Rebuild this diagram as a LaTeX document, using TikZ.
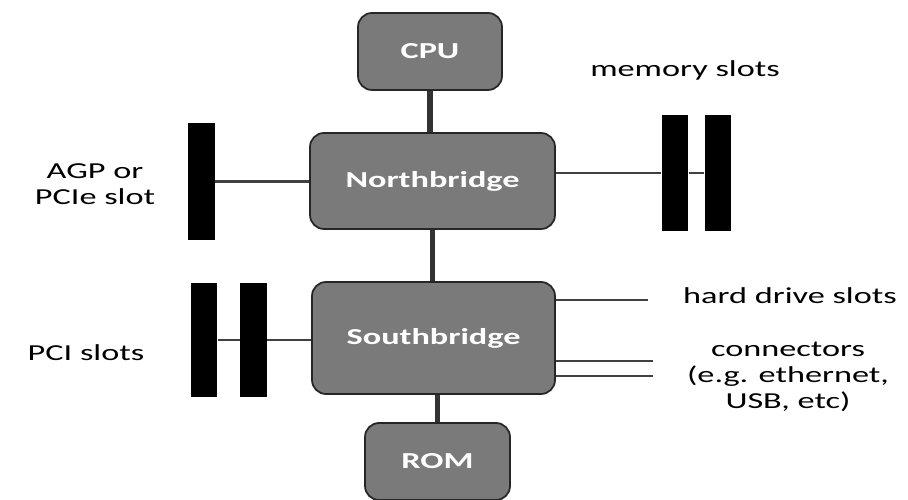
\documentclass[tikz,border=0pt]{standalone}
\usepackage{fontspec}
\setmainfont{Carlito}[FakeStretch=1.5]
\begin{document}
\begin{tikzpicture}[chip/.style={draw=black!85, line width=1pt, fill=black!52, rounded corners=8pt, text=white, font=\fontsize{13}{15}\selectfont\bfseries},
    slot/.style={fill=black, minimum width=.53cm, inner sep=0pt},
    bus/.style={black!80, line width=3pt},
    wire/.style={black!75, line width=1.5pt},
    lbl/.style={font=\fontsize{13}{15}\selectfont, align=center}]
\useasboundingbox (0,0) rectangle (18.16,10);
% chips
\node[chip, minimum width=2.88cm, minimum height=1.54cm](cpu) at (8.6,8.97){CPU};
\node[chip, minimum width=4.9cm, minimum height=1.92cm](nb) at (8.65,6.38){Northbridge};
\node[chip, minimum width=4.86cm, minimum height=2.24cm](sb) at (8.67,3.24){Southbridge};
\node[chip, minimum width=2.9cm, minimum height=1.54cm](rom) at (8.75,0.77){ROM};
% slots
\node[slot, minimum height=2.34cm](agp) at (4.03,6.37){};
\node[slot, minimum height=2.32cm](mem1) at (13.5,6.54){};
\node[slot, minimum height=2.32cm](mem2) at (14.36,6.54){};
\node[slot, minimum height=2.28cm](pci1) at (4.08,3.2){};
\node[slot, minimum height=2.28cm](pci2) at (5.07,3.2){};
\coordinate (hd) at (12.96,4.0);
\coordinate (con1) at (13.06,2.78);
\coordinate (con2) at (13.06,2.48);
% buses
\draw[bus](cpu.south)--(cpu.south |- nb.north);
\draw[bus](nb.south)--(nb.south |- sb.north);
\draw[bus](rom.north)--(rom.north |- sb.south);
\draw[wire](agp.east)--(nb.west |- agp.east);
\draw[wire](nb.east |- mem1.west)--(mem1.west);
\draw[wire](mem1.east)--(mem2.west);
\draw[wire](pci1.east)--(pci2.west);
\draw[wire](pci2.east)--(sb.west |- pci2.east);
\foreach \c in {hd,con1,con2}
{
    \draw[wire](sb.east |- \c)--(\c);
}
% labels
\node[lbl](memlbl) at (13.7,8.6){memory slots};
\node[lbl](agplbl) at (1.9,6.32){AGP or\\PCIe slot};
\node[lbl](pcilbl) at (1.72,2.94){PCI slots};
\node[lbl](hdlbl) at (15.8,4.08){hard drive slots};
\node[lbl](conlbl) at (15.76,2.46){connectors\\(e.g. ethernet,\\USB, etc)};
\end{tikzpicture}
\end{document}
